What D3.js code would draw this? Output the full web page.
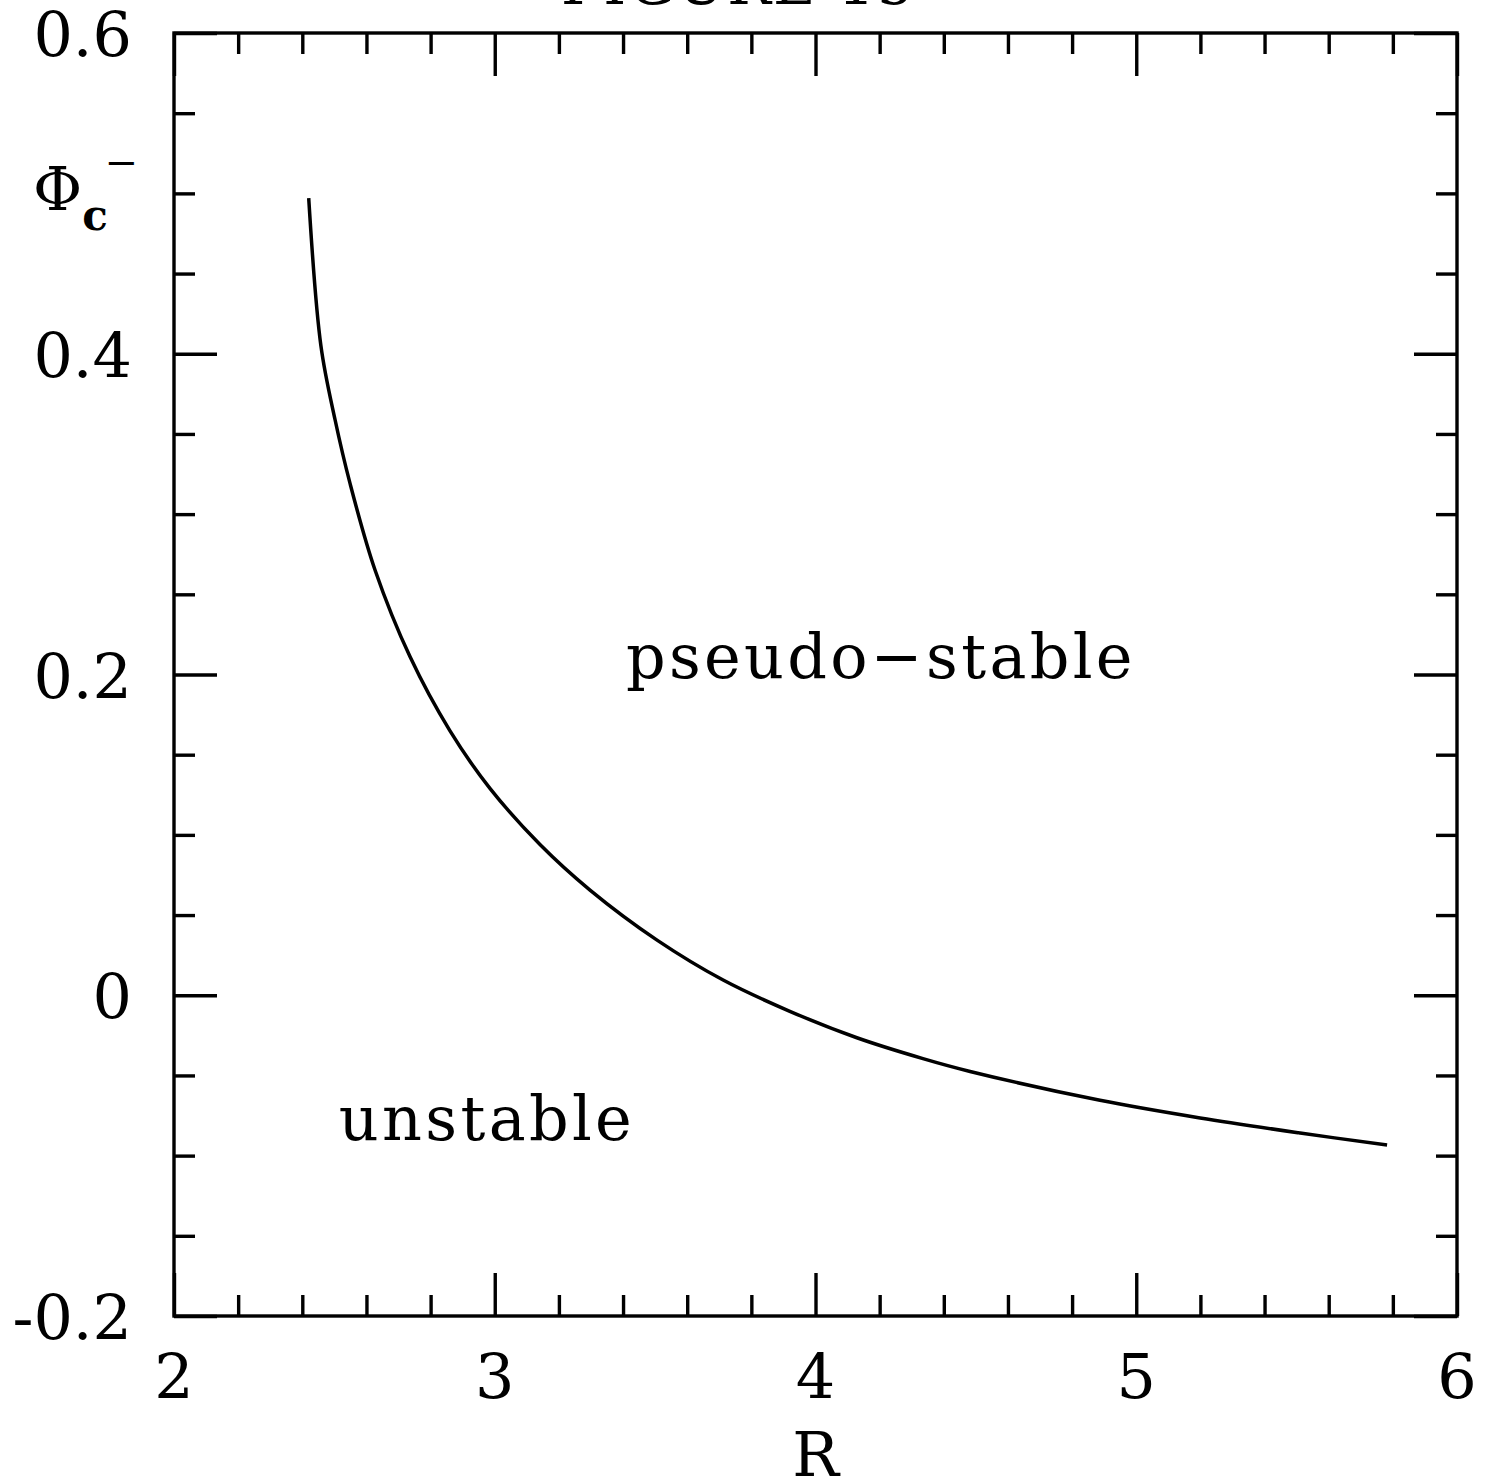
<!DOCTYPE html>
<html>
<head>
<meta charset="utf-8">
<script src="https://cdn.jsdelivr.net/npm/d3@7"></script>
<style>
  body { margin: 0; background: #fff; }
  svg text { font-family: "DejaVu Serif", serif; fill: #000; }
  .axis path, .axis line { stroke: #000; }
</style>
</head>
<body>
<svg width="1496" height="1484"></svg>
<script>
// chart values
var rValues   = [2.42, 2.458, 2.502, 2.549, 2.627, 2.736, 2.860, 2.985, 3.141, 3.297, 3.506, 3.712, 3.920, 4.129, 4.335, 4.482, 4.887, 5.199, 5.511, 5.782];
var phiValues = [0.497, 0.405, 0.359, 0.319, 0.265, 0.211, 0.165, 0.129, 0.094, 0.0656, 0.0344, 0.0095, -0.010, -0.0265, -0.0395, -0.0475, -0.0655, -0.0765, -0.0859, -0.0934];

var xTickLabels = [2, 3, 4, 5, 6];
var yTickLabels = [-0.2, 0, 0.2, 0.4, 0.6];
var xMinorTicks = d3.range(2, 6.001, 0.2);
var yMinorTicks = d3.range(-0.2, 0.6001, 0.05);

var svg = d3.select('svg');

// plot box
var box = {l: 174, t: 33, r: 1457, b: 1316};
var width = box.r - box.l;
var height = box.b - box.t;
var lineW = 3.4;

var xScale = d3.scaleLinear().domain([2, 6]).range([0, width]);
var yScale = d3.scaleLinear().domain([-0.2, 0.6]).range([height, 0]);

var g = svg.append('g')
    .attr('transform', 'translate(' + [box.l, box.t] + ')');

// frame
g.append('rect')
    .attr('width', width)
    .attr('height', height)
    .attr('fill', 'none')
    .attr('stroke', '#000')
    .attr('stroke-width', lineW);

var minorLen = 21, majorLen = 43;
function isMajor(v, step) { return Math.abs(v / step - Math.round(v / step)) < 1e-6; }

// ticks on all four sides, pointing inward
function addTicks(axisFn, values, step, transform) {
    var ax = g.append('g').attr('class', 'axis').attr('transform', transform);
    ax.call(axisFn.tickValues(values).tickSize(-minorLen).tickFormat(''));
    ax.select('.domain').remove();
    ax.selectAll('.tick line')
        .attr('stroke-width', lineW)
        .each(function(d) {
            if (isMajor(d, step)) {
                var l = d3.select(this);
                if (l.attr('x2') !== null && +l.attr('x2') !== 0) l.attr('x2', +l.attr('x2') > 0 ? majorLen : -majorLen);
                if (l.attr('y2') !== null && +l.attr('y2') !== 0) l.attr('y2', +l.attr('y2') > 0 ? majorLen : -majorLen);
            }
        });
}
addTicks(d3.axisBottom(xScale), xMinorTicks, 1, 'translate(0,' + height + ')');
addTicks(d3.axisTop(xScale), xMinorTicks, 1, 'translate(0,0)');
addTicks(d3.axisLeft(yScale), yMinorTicks, 0.2, 'translate(0,0)');
addTicks(d3.axisRight(yScale), yMinorTicks, 0.2, 'translate(' + width + ',0)');

// tick labels
g.selectAll('.xlab')
    .data(xTickLabels)
    .enter()
    .append('text')
    .attr('class', 'xlab')
    .attr('x', function(d) { return xScale(d); })
    .attr('y', height + 82)
    .attr('text-anchor', 'middle')
    .style('font-size', '62px')
    .text(function(d) { return d; });

g.selectAll('.ylab')
    .data(yTickLabels)
    .enter()
    .append('text')
    .attr('class', 'ylab')
    .attr('x', -42)
    .attr('y', function(d) { return yScale(d) + 23; })
    .attr('text-anchor', 'end')
    .style('font-size', '62px')
    .text(function(d) { return d === 0 ? '0' : d.toFixed(1); });

// axis titles
svg.append('text')
    .attr('x', box.l + width / 2)
    .attr('y', 1476)
    .attr('text-anchor', 'middle')
    .style('font-size', '62px')
    .text('R');

var yt = svg.append('text')
    .attr('x', 33)
    .attr('y', 210)
    .style('font-size', '60px');
yt.append('tspan').text('Φ');
yt.append('tspan').attr('dy', 20).style('font-size', '42px').style('font-weight', 'bold').text('c');
yt.append('tspan').attr('dx', -3).attr('dy', -54).style('font-size', '40px').text('−');

// title, mostly off the top of the page
svg.append('text')
    .attr('x', 561)
    .attr('y', 4)
    .style('font-size', '58px')
    .style('letter-spacing', '2px')
    .text('FIGURE 15');

// curve
var line = d3.line()
    .x(function(d, i) { return xScale(rValues[i]); })
    .y(function(d) { return yScale(d); })
    .curve(d3.curveCatmullRom);

g.append('path')
    .datum(phiValues)
    .attr('d', line)
    .attr('fill', 'none')
    .attr('stroke', '#000')
    .attr('stroke-width', 3.5);

// region labels
g.append('text')
    .attr('x', xScale(3.409))
    .attr('y', yScale(0.198))
    .style('font-size', '62px')
    .style('letter-spacing', '3.3px')
    .text('pseudo−stable');

g.append('text')
    .attr('x', xScale(2.514))
    .attr('y', yScale(-0.090))
    .style('font-size', '62px')
    .style('letter-spacing', '3.3px')
    .text('unstable');
</script>
</body>
</html>
